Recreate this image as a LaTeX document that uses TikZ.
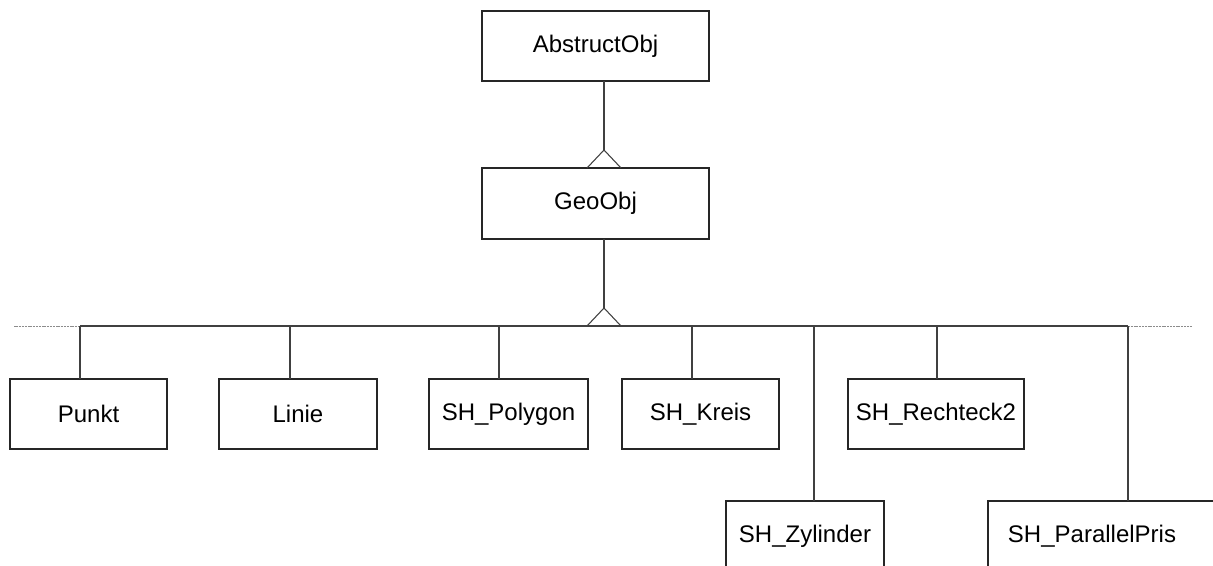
\documentclass[tikz,border=0pt]{standalone}
\usepackage{fontspec}
\setmainfont{Liberation Sans}
\begin{document}
\begin{tikzpicture}[x=0.75pt,y=-0.75pt,
  cls/.style={draw=black!85, line width=1.1pt, fill=white, inner sep=0pt, outer sep=0pt,
    minimum height=52.5pt, font=\fontsize{18}{21}\selectfont},
  w/.style={minimum width=#1*0.75pt},
  conn/.style={draw=black!75, line width=0.8pt},
  dotl/.style={draw=black!45, line width=0.6pt, dash pattern=on 1.5pt off 0.6pt}]
\useasboundingbox (0,0) rectangle (1213,565);
\clip (0,0) rectangle (1213,565);

% class boxes
\node[cls, w=227] (abs)   at (595.5,46)    {AbstructObj};
\node[cls, w=227, minimum height=53.25pt] (geo) at (595.5,203.5) {GeoObj};
\node[cls, w=157] (punkt) at (88.5,414)    {Punkt};
\node[cls, w=158] (linie) at (298,414)     {Linie};
\node[cls, w=159] (poly)  at (508.5,414)   {SH\_Polygon};
\node[cls, w=157] (kreis) at (700.5,414)   {SH\_Kreis};
\node[cls, w=176] (rech)  at (936,414)     {SH\_Rechteck2};
\node[cls, w=158] (zyl)   at (805,536)     {SH\_Zylinder};
\node[cls, w=250] (para)  at (1113,536)    {};
\node[font=\fontsize{18}{21}\selectfont, inner sep=0pt] (paratxt) at (1092,536) {SH\_ParallelPris};

% generalisation AbstructObj <- GeoObj
\coordinate (t1) at (604,150);
\draw[conn] (abs.south -| t1) -- (t1);
\draw[conn] (t1) -- ++(-17,18) (t1) -- ++(17,18);

% generalisation GeoObj <- subclasses
\coordinate (t2) at (604,308);
\draw[conn] (geo.south -| t2) -- (t2);
\coordinate (busL) at (80,326);
\coordinate (busR) at (1128,326);
\draw[conn] (busL) -- (busR);
\draw[conn] (t2) -- ++(-17,18) (t2) -- ++(17,18);
\draw[dotl] (busL) -- ++(-67,0);
\draw[dotl] (busR) -- ++(64,0);

\coordinate (b1) at (80,326);
\coordinate (b2) at (290,326);
\coordinate (b3) at (499,326);
\coordinate (b4) at (692,326);
\coordinate (b5) at (814,326);
\coordinate (b6) at (937,326);
\coordinate (b7) at (1128,326);
\draw[conn] (b1) -- (b1 |- punkt.north);
\draw[conn] (b2) -- (b2 |- linie.north);
\draw[conn] (b3) -- (b3 |- poly.north);
\draw[conn] (b4) -- (b4 |- kreis.north);
\draw[conn] (b5) -- (b5 |- zyl.north);
\draw[conn] (b6) -- (b6 |- rech.north);
\draw[conn] (b7) -- (b7 |- para.north);
\end{tikzpicture}
\end{document}
